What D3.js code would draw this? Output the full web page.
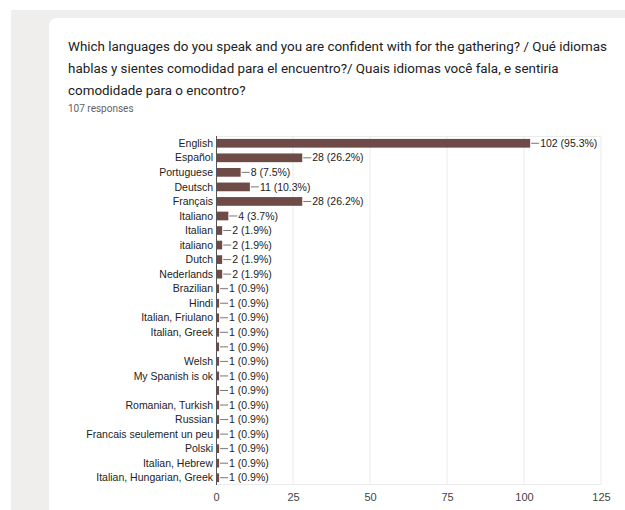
<!DOCTYPE html>
<html>
<head>
<meta charset="utf-8">
<script src="https://cdn.jsdelivr.net/npm/d3@7/dist/d3.min.js"></script>
<style>
  html, body { margin: 0; padding: 0; background: #fff; }
  svg { display: block; }
</style>
</head>
<body>
<svg id="chart" width="625" height="510"></svg>
<script>
const categories = ["English","Español","Portuguese","Deutsch","Français","Italiano","Italian","italiano","Dutch","Nederlands","Brazilian","Hindi","Italian, Friulano","Italian, Greek","","Welsh","My Spanish is ok","","Romanian, Turkish","Russian","Francais seulement un peu","Polski","Italian, Hebrew","Italian, Hungarian, Greek"];
const counts = [102,28,8,11,28,4,2,2,2,2,1,1,1,1,1,1,1,1,1,1,1,1,1,1];
const totalResponses = 107;
const xTicks = [0,25,50,75,100,125];
const titleLines = [
  "Which languages do you speak and you are confident with for the gathering? / Qué idiomas",
  "hablas y sientes comodidad para el encuentro?/ Quais idiomas você fala, e sentiria",
  "comodidade para o encontro?"
];
const responsesLabel = "107 responses";

const svg = d3.select("#chart");

// page background + card
svg.append("rect").attr("x", 11).attr("y", 10).attr("width", 614).attr("height", 500).attr("fill", "#efeeed");
svg.append("rect").attr("x", 49).attr("y", 18).attr("width", 590).attr("height", 510).attr("rx", 8).attr("fill", "#ffffff");

// title
const title = svg.append("text").attr("x", 68).attr("y", 51)
  .attr("font-family", "Roboto, Arial, sans-serif").attr("font-size", 13.4).attr("fill", "#202124");
titleLines.forEach((t, i) => {
  title.append("tspan").attr("x", 68).attr("y", 51 + i * 22).text(t);
});
svg.append("text").attr("x", 68).attr("y", 112).text(responsesLabel)
  .attr("font-family", "Roboto, Arial, sans-serif").attr("font-size", 10).attr("fill", "#5f6368");

const pLeft = 216, pRight = 601, pTop = 136, pBottom = 485;
const x = d3.scaleLinear().domain([0, 125]).range([pLeft, pRight]);
const idx = d3.range(categories.length);
const y = d3.scaleBand().domain(idx).range([pTop, pBottom]).paddingInner(0.4).paddingOuter(0.2);

const g = svg.append("g");

// gridlines
g.selectAll("line.grid").data(xTicks.filter(d => d > 0)).join("line")
  .attr("x1", d => x(d)).attr("x2", d => x(d)).attr("y1", pTop).attr("y2", pBottom)
  .attr("stroke", "#ebebeb").attr("stroke-width", 1);
g.append("line").attr("x1", pLeft).attr("x2", pRight).attr("y1", pTop + 0.5).attr("y2", pTop + 0.5).attr("stroke", "#ebebeb");
g.append("line").attr("x1", pLeft).attr("x2", pRight).attr("y1", pBottom - 0.5).attr("y2", pBottom - 0.5).attr("stroke", "#ebebeb");

// bars
g.selectAll("rect.bar").data(idx).join("rect")
  .attr("x", x(0)).attr("y", i => y(i)).attr("width", i => x(counts[i]) - x(0)).attr("height", y.bandwidth())
  .attr("fill", "#6f4b48");

// axis line
g.append("line").attr("x1", pLeft + 0.5).attr("x2", pLeft + 0.5).attr("y1", pTop).attr("y2", pBottom)
  .attr("stroke", "#555").attr("stroke-width", 1);

// category labels
g.selectAll("text.cat").data(idx).join("text")
  .attr("x", pLeft - 3).attr("y", i => y(i) + y.bandwidth() / 2).attr("dy", "0.35em")
  .attr("text-anchor", "end").attr("font-family", "Arial, 'Liberation Sans', sans-serif").attr("font-size", 10.5)
  .attr("fill", "#222").text(i => categories[i]);

// leader lines + value labels
g.selectAll("line.lead").data(idx).join("line")
  .attr("x1", i => x(counts[i]) + 1).attr("x2", i => x(counts[i]) + 9)
  .attr("y1", i => y(i) + y.bandwidth() / 2).attr("y2", i => y(i) + y.bandwidth() / 2)
  .attr("stroke", "#777").attr("stroke-width", 1);
g.selectAll("text.val").data(idx).join("text")
  .attr("x", i => x(counts[i]) + 10).attr("y", i => y(i) + y.bandwidth() / 2).attr("dy", "0.35em")
  .attr("font-family", "Arial, 'Liberation Sans', sans-serif").attr("font-size", 10.5).attr("fill", "#222")
  .text(i => counts[i] + " (" + (counts[i] / totalResponses * 100).toFixed(1) + "%)");

// x axis ticks
const xAxis = d3.axisBottom(x).tickValues(xTicks).tickSize(0).tickPadding(8);
const ax = svg.append("g").attr("transform", `translate(0,${pBottom})`).call(xAxis);
ax.select(".domain").remove();
ax.selectAll("text").attr("font-family", "Arial, 'Liberation Sans', sans-serif").attr("font-size", 11).attr("fill", "#444");
</script>
</body>
</html>
